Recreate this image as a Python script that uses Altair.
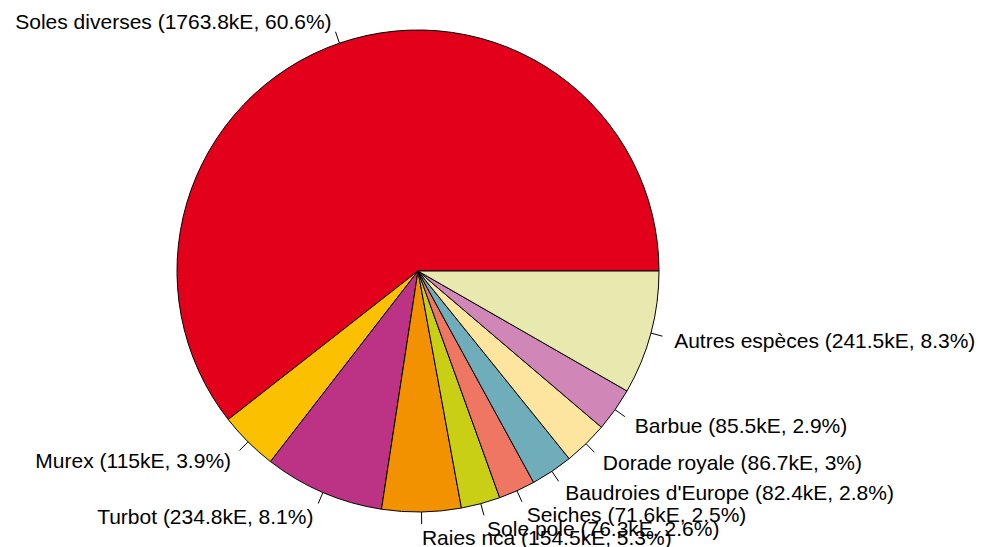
import math
import altair as alt
import pandas as pd

names = ["Soles diverses", "Murex", "Turbot", "Raies nca", "Sole pole", "Seiches",
         "Baudroies d'Europe", "Dorade royale", "Barbue", "Autres espèces"]
values = [1763.8, 115, 234.8, 154.5, 76.3, 71.6, 82.4, 86.7, 85.5, 241.5]
percents = [60.6, 3.9, 8.1, 5.3, 2.6, 2.5, 2.8, 3, 2.9, 8.3]
colors = ["#E2001A", "#FBC100", "#BC3285", "#F39200", "#C8CF14", "#EE7662",
          "#6FADBA", "#FEE59F", "#D086B6", "#E7E9AF"]

labels = [f"{n} ({v:g}kE, {p:g}%)" for n, v, p in zip(names, values, percents)]
df = pd.DataFrame({"name": names, "value": values, "label": labels,
                   "order": list(range(len(names)))})

R = 241
W, H = 971, 539
CX, CY = 410, 263
xs = alt.Scale(domain=[-CX, W - CX], nice=False, zero=False)
ys = alt.Scale(domain=[CY - H, CY], nice=False, zero=False)

base = alt.Chart(df)

arcs = base.mark_arc(radius=R, stroke="#000000", strokeWidth=1).encode(
    x=alt.XDatum(0, type="quantitative", scale=xs, axis=None),
    y=alt.YDatum(0, type="quantitative", scale=ys, axis=None),
    theta=alt.Theta("value:Q", stack=True,
                    scale=alt.Scale(range=[math.pi / 2, math.pi / 2 - 2 * math.pi])),
    order=alt.Order("order:Q"),
    color=alt.Color("name:N", scale=alt.Scale(domain=names, range=colors), legend=None),
)

geo = base.transform_joinaggregate(total="sum(value)").transform_window(
    cum="sum(value)", sort=[alt.SortField("order")]
).transform_calculate(
    mid="(datum.cum - datum.value / 2) / datum.total * 2 * PI",
).transform_calculate(
    c="cos(datum.mid)", s="sin(datum.mid)",
).transform_calculate(
    r0x=f"{R} * datum.c", r0y=f"{R} * datum.s",
    r1x=f"{1.05 * R} * datum.c", r1y=f"{1.05 * R} * datum.s",
    lx=f"{1.1 * R} * datum.c", ly=f"{1.1 * R} * datum.s",
)

ticks = geo.mark_rule(color="#000000", strokeWidth=1).encode(
    x=alt.X("r0x:Q", scale=xs, axis=None),
    y=alt.Y("r0y:Q", scale=ys, axis=None),
    x2="r1x:Q", y2="r1y:Q",
)

txt_kw = dict(font="Liberation Sans", fontSize=21, color="#000000",
              baseline="middle", dy=3)
right_labels = geo.transform_filter("datum.c >= 0").mark_text(align="left", **txt_kw).encode(
    x=alt.X("lx:Q", scale=xs, axis=None),
    y=alt.Y("ly:Q", scale=ys, axis=None),
    text="label:N",
)
left_labels = geo.transform_filter("datum.c < 0").mark_text(align="right", **txt_kw).encode(
    x=alt.X("lx:Q", scale=xs, axis=None),
    y=alt.Y("ly:Q", scale=ys, axis=None),
    text="label:N",
)

chart = alt.layer(arcs, ticks, right_labels, left_labels).properties(
    width=W, height=H, padding=0, autosize=alt.AutoSizeParams(type="none"),
    background="#ffffff",
).configure_view(stroke=None)

chart.save("out.html", embed_options={"renderer": "svg", "actions": False})
